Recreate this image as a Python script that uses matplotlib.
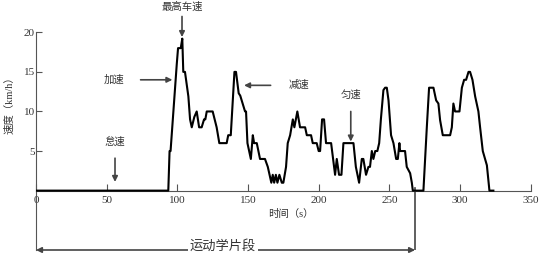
import matplotlib
matplotlib.use('Agg')
import matplotlib.pyplot as plt

plt.rcParams['font.family'] = ['Liberation Serif', 'Noto Sans CJK SC']

# 时间 (s) 与 速度 (km/h)
t = [0, 93.6, 94.5, 95.2, 97.2, 99.6, 100.5, 102.4, 103.5, 104.2, 105.4, 107.8,
     109, 110.2, 112, 113.7, 115.4, 117.2, 118.9, 119.8, 120.8, 125, 127.8, 129.7,
     134.9, 136, 137.8, 140.4, 141.5, 143.4, 144.5, 147.9, 148.6, 149.6, 152,
     153.4, 154.3, 156.2, 158.5, 162, 164, 166.5, 167.5, 168.5, 169.7, 170.8,
     172.2, 173.9, 175, 176.9, 178.1, 179.8, 181.7, 182.8, 184.9, 186.8, 190.4,
     191.6, 194.6, 195.8, 198.6, 200, 201, 202.4, 203.8, 205.2, 208.8, 211.6,
     212.8, 214.4, 216.1, 217.5, 224.6, 226.3, 228.6, 230.5, 231.6, 233.5, 235.2,
     236.3, 237.6, 238.7, 240, 241.5, 242.8, 244, 245.8, 247, 248.2, 249.4, 251.2,
     252.9, 254.8, 256, 257.1, 257.6, 261.1, 262.3, 264.7, 265.9, 266.6, 274.1,
     276.5, 278.1, 281.2, 283.1, 284.7, 285.9, 287.8, 293, 294.2, 295.3, 296.5,
     299.6, 301.3, 302.9, 304.3, 306, 307.1, 308.8, 310.7, 313, 314.2, 316.1,
     319, 320.8, 323.6]
v = [0, 0, 5, 5, 10, 16, 18, 18, 19.2, 15, 15, 11.9,
     9, 8, 9.3, 10, 8, 8, 9, 9, 10, 10, 8, 6,
     6, 7, 7, 15, 15, 12.3, 12, 10, 10, 6, 4,
     7, 6, 6, 4, 4, 3, 1, 2, 1, 2, 1,
     2, 1, 1, 3, 6, 7, 9, 8, 10, 8, 8,
     7, 7, 6, 6, 5, 5, 9, 9, 6, 6, 2,
     4, 2, 2, 6, 6, 3, 1, 4, 4, 2, 3,
     3, 5, 4, 5, 5, 6, 9, 12.7, 13, 13, 11.4, 7,
     6, 4, 4, 6, 5, 5, 3, 2.2, 1, 0, 0,
     8, 13, 13, 11.4, 11, 8.9, 7, 7, 8, 11, 10,
     10, 13, 14, 14, 15, 15, 14, 11.9, 10, 8, 5,
     3.2, 0, 0]

x_ticks = [0, 50, 100, 150, 200, 250, 300, 350]
y_ticks = [5, 10, 15, 20]
segment_end = 268.2

grey = '#333333'
fig = plt.figure(figsize=(5.43, 2.56), dpi=100)
ax = fig.add_axes([36 / 543, 6 / 256, 494.7 / 543, 217.7 / 256])
ax.plot(t, v, color='black', lw=1.5, zorder=3)
ax.set_xlim(0, 350)
ax.set_ylim(-7.5, 20)

ax.spines['top'].set_visible(False)
ax.spines['right'].set_visible(False)
ax.spines['bottom'].set_position(('data', 0))
ax.spines['bottom'].set_color('#555555')
ax.spines['left'].set_color('#555555')
ax.set_xticks(x_ticks)
ax.set_yticks(y_ticks)
ax.tick_params(axis='x', direction='in', length=5, pad=4, labelsize=8,
               colors='#555555', labelcolor=grey)
ax.tick_params(axis='y', direction='in', length=4, pad=1, labelsize=8,
               colors='#555555', labelcolor=grey)

ax.text(180.6, -2.9, '时间（s）', ha='center', va='center', fontsize=7.5, color=grey)
fig.text(9 / 543, 0.598, '速度（km/h）', rotation=90, ha='center', va='center',
         fontsize=7.5, color=grey)

arr = dict(arrowstyle='-|>', color='#444444', lw=1.2, mutation_scale=8,
           shrinkA=0, shrinkB=0)
ax.annotate('', xy=(103.3, 19.4), xytext=(103.3, 22), arrowprops=arr,
            annotation_clip=False)
ax.text(103.3, 23.2, '最高车速', ha='center', va='center', fontsize=7.5, color=grey,
        clip_on=False)
ax.annotate('', xy=(96.5, 14), xytext=(74, 14), arrowprops=arr)
ax.text(55.2, 14, '加速', ha='center', va='center', fontsize=7.5, color=grey)
ax.annotate('', xy=(147.2, 13.3), xytext=(166, 13.3), arrowprops=arr)
ax.text(186.3, 13.4, '减速', ha='center', va='center', fontsize=7.5, color=grey)
ax.annotate('', xy=(222.7, 6.2), xytext=(222.7, 10), arrowprops=arr)
ax.text(222.7, 12.1, '匀速', ha='center', va='center', fontsize=7.5, color=grey)
ax.annotate('', xy=(55.9, 1.1), xytext=(55.9, 4.1), arrowprops=arr)
ax.text(55.9, 6.2, '怠速', ha='center', va='center', fontsize=7.5, color=grey)

# 运动学片段
ax.plot([segment_end, segment_end], [0.3, -7.5], color='#444444', lw=1.2)
ax.annotate('', xy=(0, -7.5), xytext=(segment_end, -7.5),
            arrowprops=dict(arrowstyle='<|-|>', color='#444444', lw=1.2,
                            mutation_scale=8, shrinkA=0, shrinkB=0),
            annotation_clip=False)
ax.text(132.3, -7.1, '运动学片段', ha='center', va='center', fontsize=9.5, color=grey,
        bbox=dict(facecolor='white', edgecolor='none', pad=1))

fig.savefig('out.png', dpi=100)
